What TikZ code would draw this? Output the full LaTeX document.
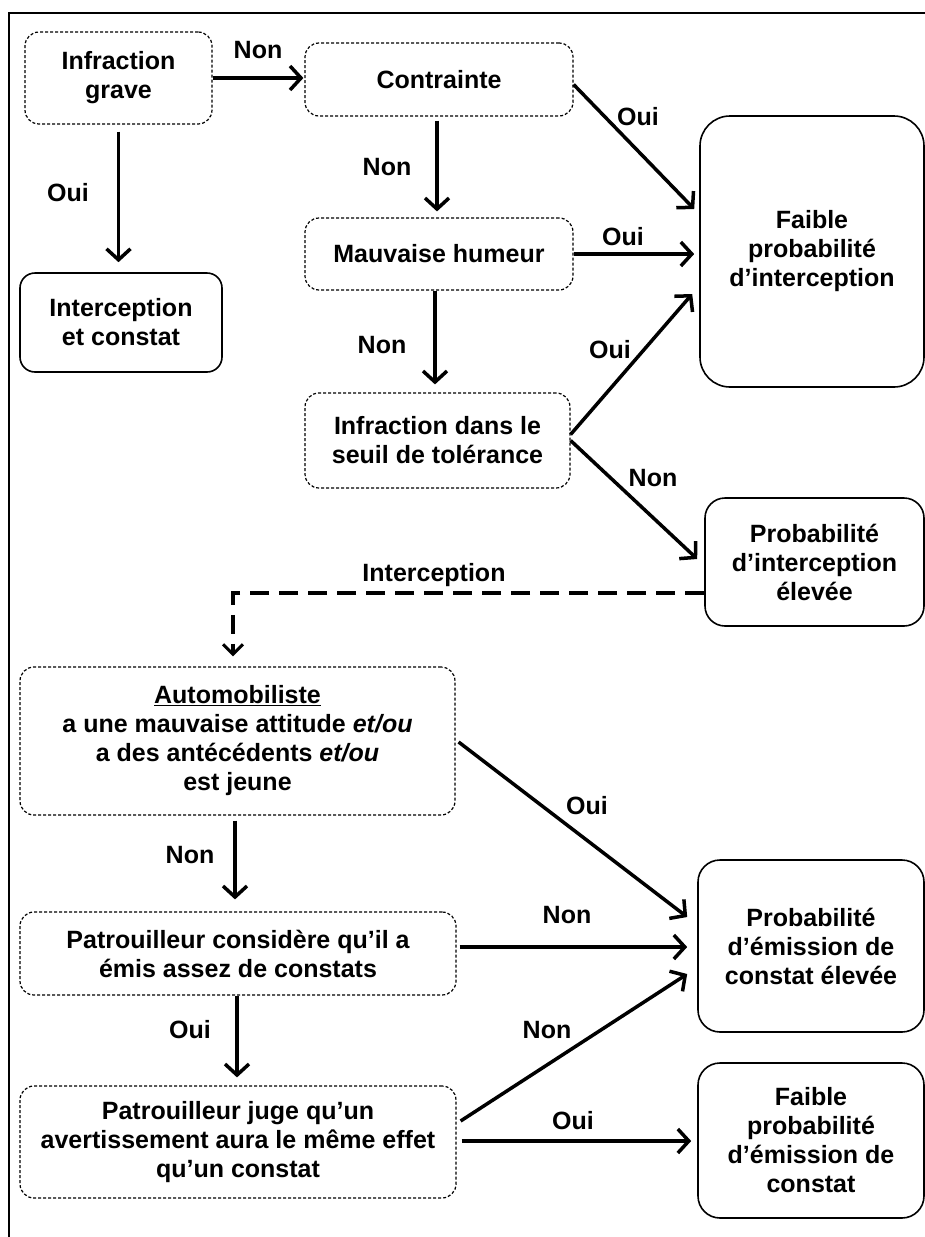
\documentclass[tikz,border=0pt]{standalone}
\usepackage{fontspec}
\setmainfont{Liberation Sans}
\usetikzlibrary{arrows.meta,calc}
\begin{document}
\begin{tikzpicture}[x=1pt,y=-1pt,
  txt/.style={font=\bfseries\fontsize{25}{29}\selectfont, align=center, inner sep=0pt},
  lbl/.style={font=\bfseries\fontsize{25}{29}\selectfont, inner sep=0pt},
  dbox/.style={txt, draw, line width=1.2pt, dash pattern=on 3pt off 2pt, rounded corners=14pt},
  sbox/.style={txt, draw, line width=1.6pt, rounded corners=#1},
  arr/.style={line width=3.5pt, -{Straight Barb[length=11pt,width=24pt]}},
  darr/.style={line width=3.5pt, dash pattern=on 19pt off 10pt, -{Straight Barb[length=10pt,width=20pt,line width=3pt]}}
]
\useasboundingbox (0,0) rectangle (925,1237);
\clip (0,0) rectangle (925,1237);
% outer frame
\draw[line width=2pt] (9,1260) -- (9,13) -- (950,13);

% decision boxes (dashed)
\node[dbox, minimum width=187pt, minimum height=92pt] (A) at (118.5,78) {Infraction\\grave};
\node[dbox, minimum width=268pt, minimum height=73pt] (B) at (439,79.5) {Contrainte};
\node[dbox, minimum width=268pt, minimum height=72pt] (C) at (439,254) {Mauvaise humeur};
\node[dbox, minimum width=265pt, minimum height=95pt] (D) at (437.5,440.5) {Infraction dans le\\seuil de tol\'erance};
\node[dbox, minimum width=435pt, minimum height=148pt] (H) at (237.5,741) {\underline{Automobiliste}\\a une mauvaise attitude \textit{et/ou}\\a des ant\'ec\'edents \textit{et/ou}\\est jeune};
\node[dbox, minimum width=436pt, minimum height=83pt] (I) at (238,953.5) {Patrouilleur consid\`ere qu'il a\\\'emis assez de constats};
\node[dbox, minimum width=436pt, minimum height=112pt] (J) at (238,1142) {Patrouilleur juge qu'un\\avertissement aura le m\^eme effet\\qu'un constat};

% outcome boxes (solid)
\node[sbox=15pt, minimum width=202pt, minimum height=99pt] (E) at (121,322.5) {Interception\\et constat};
\node[sbox=30pt, minimum width=224pt, minimum height=271pt] (F) at (812,251.5) {Faible\\probabilit\'e\\d'interception};
\node[sbox=20pt, minimum width=219pt, minimum height=128pt] (G) at (814.5,562) {Probabilit\'e\\d'interception\\\'elev\'ee};
\node[sbox=22pt, minimum width=226pt, minimum height=172pt] (K) at (811,946) {Probabilit\'e\\d'\'emission de\\constat \'elev\'ee};
\node[sbox=22pt, minimum width=226pt, minimum height=155pt] (L) at (811,1140.5) {Faible\\probabilit\'e\\d'\'emission de\\constat};

% connectors
\draw[arr] (A.east) -- ($(A.east -| B.west)+(-1,0)$);
\draw[arr, shorten <=7pt, shorten >=10pt] (A.south) -- (A.south |- E.north);
\draw[arr, shorten <=4pt, shorten >=6pt] ([xshift=-2pt]B.south) -- ([xshift=-2pt]B.south |- C.north);
\draw[arr, shorten <=0pt, shorten >=8pt] ([xshift=-4pt]C.south) -- ([xshift=-4pt]C.south |- D.north);
\draw[arr] ($(B.east)+(0,5)$) -- ($(F.west)+(-5,-42.5)$);
\draw[arr] (C.east) -- ($(C.east -| F.west)+(-5,0)$);
\draw[arr] ($(D.east)+(0,-6)$) -- ($(F.west)+(-7,42.5)$);
\draw[arr] (D.east) -- ($(G.west)+(-7,-3)$);
\draw[darr] ($(G.west)+(0,31)$) -| ($(H.north)+(-4.5,-10)$);
\draw[arr, shorten <=5pt, shorten >=12pt] ([xshift=-2.5pt]H.south) -- ([xshift=-2.5pt]H.south |- I.north);
\draw[arr, shorten >=8pt] ([xshift=-1pt]I.south) -- ([xshift=-1pt]I.south |- J.north);
\draw[arr] ($(H.east)+(3,1)$) -- ($(K.west)+(-10,-29)$);
\draw[arr] ($(I.east)+(3,-6.5)$) -- ($(K.west)+(-10,1)$);
\draw[arr] ($(J.east)+(4,-21)$) -- ($(K.west)+(-10,28)$);
\draw[arr] ($(J.east)+(5,-1)$) -- ($(L.west)+(-6,0.5)$);

% labels
\node[lbl] (l1) at (258,50) {Non};
\node[lbl] (l2) at (68,193) {Oui};
\node[lbl] (l3) at (387,167) {Non};
\node[lbl] (l4) at (382,345) {Non};
\node[lbl] (l5) at (638,117) {Oui};
\node[lbl] (l6) at (623,237) {Oui};
\node[lbl] (l7) at (610,350) {Oui};
\node[lbl] (l8) at (653,478) {Non};
\node[lbl] (l9) at (434,575) {Interception};
\node[lbl] (l10) at (190,855) {Non};
\node[lbl] (l11) at (190,1030) {Oui};
\node[lbl] (l12) at (587,806) {Oui};
\node[lbl] (l13) at (567,915) {Non};
\node[lbl] (l14) at (547,1030) {Non};
\node[lbl] (l15) at (573,1121) {Oui};
\end{tikzpicture}
\end{document}
